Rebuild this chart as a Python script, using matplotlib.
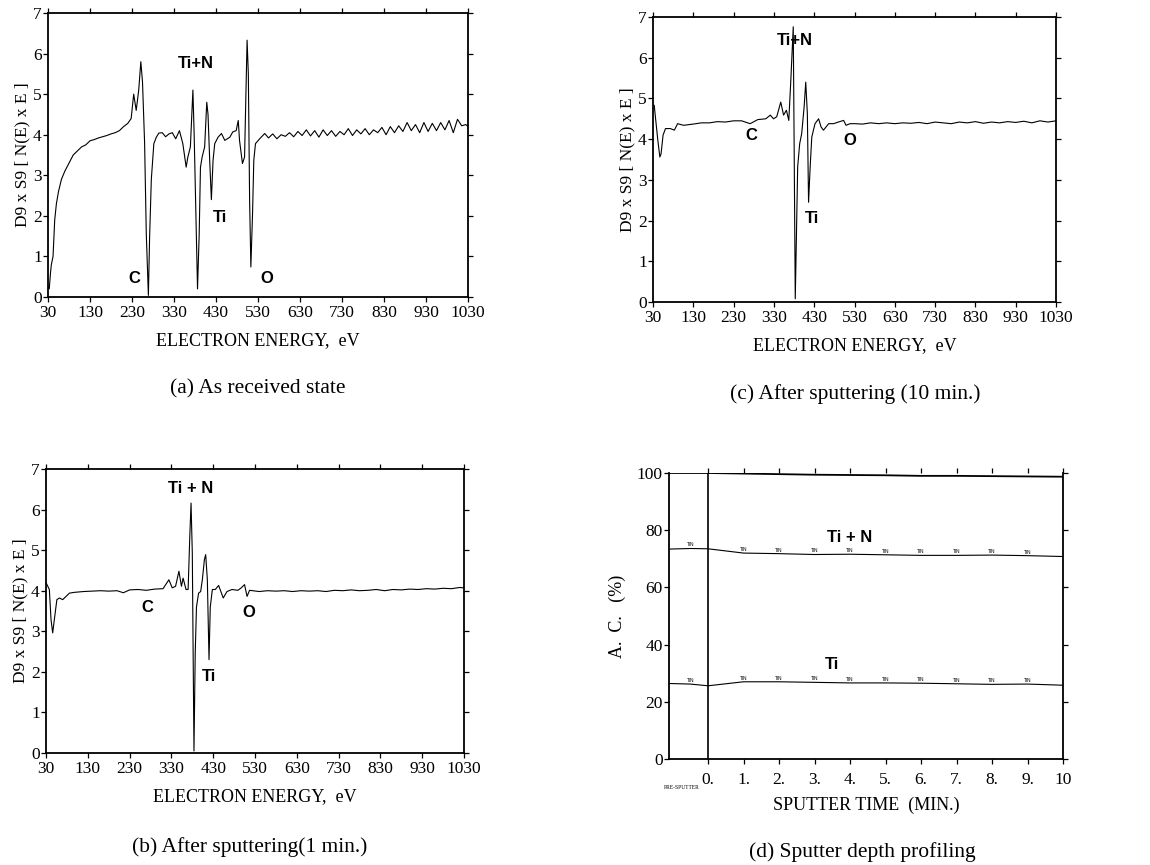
"""
Four panel AES figure: three Auger spectra and a sputter depth profile
"""
import matplotlib
matplotlib.use('Agg')
import matplotlib.pyplot as plt
from matplotlib.transforms import blended_transform_factory

plt.rcParams['font.family'] = ['Liberation Serif', 'DejaVu Serif']

# ---- data ----
# (a) as received
energy_a = [30, 33, 36, 38, 42, 46, 50, 55, 62, 70, 80, 90, 100, 110, 120, 130, 140, 150,
            160, 170, 180, 190, 200, 210, 220, 228, 234, 240, 246, 251, 255, 260, 264, 269,
            272, 276, 282, 288, 294, 302, 310, 318, 326, 334, 343, 351, 359, 363, 369, 374,
            375, 378, 383, 386, 390, 393, 397, 403, 408, 411, 415, 419, 423, 427, 435, 443,
            451, 463, 470, 478, 483, 486, 493, 498, 501, 504, 507, 510, 513, 517, 520, 524,
            534, 546, 555, 565, 575, 585, 595, 605, 615, 625, 635, 645, 655, 665, 675, 685,
            695, 705, 715, 725, 735, 745, 755, 765, 775, 785, 795, 805, 815, 825, 835, 845,
            855, 865, 875, 885, 895, 905, 915, 925, 935, 945, 955, 965, 975, 985, 995, 1005,
            1015, 1025, 1030]
signal_a = [0.25, 0.2, 0.6, 0.8, 1.0, 1.9, 2.3, 2.6, 2.9, 3.1, 3.3, 3.5, 3.6, 3.7, 3.75, 3.85,
            3.88, 3.92, 3.95, 3.98, 4.02, 4.05, 4.1, 4.2, 4.28, 4.4, 5.0, 4.6, 5.1, 5.8, 5.3,
            3.8, 1.56, 0.04, 1.5, 2.9, 3.78, 3.94, 4.04, 4.05, 3.95, 4.02, 4.05, 3.9, 4.1,
            3.78, 3.2, 3.45, 3.7, 4.85, 5.1, 4.0, 1.56, 0.2, 1.56, 3.2, 3.45, 3.7, 4.8, 4.5,
            3.37, 2.4, 3.37, 3.78, 3.94, 4.03, 3.86, 3.94, 4.07, 4.1, 4.35, 3.86, 3.29, 3.45,
            4.85, 6.33, 5.5, 2.4, 0.74, 2.05, 3.37, 3.78, 3.9, 4.03, 3.92, 4.02, 3.9, 4.0,
            3.96, 4.05, 3.95, 4.08, 3.98, 4.12, 3.97, 4.1, 3.94, 4.12, 3.98, 4.1, 3.96, 4.08,
            4.0, 4.15, 3.98, 4.12, 4.02, 4.15, 4.0, 4.12, 4.05, 4.18, 4.0, 4.2, 4.05, 4.22,
            4.08, 4.3, 4.1, 4.25, 4.05, 4.3, 4.08, 4.28, 4.1, 4.3, 4.12, 4.35, 4.05, 4.38,
            4.22, 4.25, 4.2]

# (b) after 1 min sputtering
energy_b = [30, 38, 42, 46, 50, 56, 62, 70, 78, 86, 98, 120, 140, 160, 180, 200, 215, 230,
            250, 270, 290, 310, 324, 332, 340, 348, 354, 358, 365, 370, 374, 377, 380, 382,
            384, 387, 390, 395, 400, 404, 409, 412, 416, 420, 423, 428, 435, 443, 454, 463,
            475, 489, 497, 505, 511, 517, 540, 560, 580, 600, 620, 640, 660, 680, 700, 720,
            740, 760, 780, 800, 820, 840, 860, 880, 900, 920, 940, 960, 980, 1000, 1020, 1030]
signal_b = [4.2, 4.03, 3.29, 2.96, 3.29, 3.78, 3.82, 3.78, 3.86, 3.94, 3.96, 3.98, 3.99, 4.0,
            3.99, 4.0, 3.95, 4.02, 4.03, 4.01, 4.04, 4.05, 4.27, 4.07, 4.11, 4.48, 4.11, 4.31,
            4.03, 4.03, 5.34, 6.16, 4.93, 2.47, 0.05, 2.47, 3.6, 3.94, 3.98, 4.27, 4.77, 4.89,
            4.27, 2.3, 3.6, 4.03, 4.03, 4.13, 3.82, 3.98, 4.03, 4.01, 4.07, 4.15, 3.86, 4.01,
            3.98, 4.0, 3.99, 4.0, 3.98, 4.0, 3.99, 4.0, 3.98, 4.01, 4.0, 4.02, 4.0, 4.01,
            4.03, 4.0, 4.03, 4.02, 4.04, 4.03, 4.05, 4.04, 4.06, 4.05, 4.08, 4.07]

# (c) after 10 min sputtering
energy_c = [33, 42, 47, 50, 55, 61, 73, 83, 91, 106, 130, 150, 170, 190, 210, 230, 250, 271,
            290, 310, 321, 329, 337, 347, 354, 361, 367, 372, 375, 378, 380, 383, 386, 389,
            394, 399, 405, 409, 413, 416, 420, 424, 432, 441, 447, 453, 466, 478, 490, 503,
            509, 519, 530, 550, 570, 590, 610, 630, 650, 670, 690, 710, 730, 750, 770, 790,
            810, 830, 850, 870, 890, 910, 930, 950, 970, 990, 1010, 1030]
signal_c = [4.83, 3.97, 3.56, 3.64, 4.1, 4.26, 4.26, 4.22, 4.38, 4.34, 4.37, 4.4, 4.4, 4.43,
            4.42, 4.45, 4.45, 4.38, 4.48, 4.5, 4.59, 4.5, 4.55, 4.91, 4.59, 4.71, 4.46, 5.45,
            6.1, 6.76, 4.14, 0.08, 1.68, 3.32, 3.89, 4.14, 4.79, 5.4, 4.63, 2.45, 3.32, 4.05,
            4.38, 4.5, 4.3, 4.22, 4.38, 4.38, 4.42, 4.46, 4.34, 4.38, 4.38, 4.37, 4.4, 4.38,
            4.4, 4.38, 4.4, 4.39, 4.41, 4.38, 4.42, 4.4, 4.38, 4.42, 4.4, 4.43, 4.39, 4.42,
            4.4, 4.43, 4.41, 4.44, 4.4, 4.45, 4.42, 4.45]

# (d) sputter depth profile
time_d = [-1.1, -0.5, 0.0, 1.0, 2.0, 3.0, 4.0, 5.0, 6.0, 7.0, 8.0, 9.0, 10.0]
tin_d = [73.4, 73.6, 73.5, 72.0, 71.8, 71.5, 71.6, 71.4, 71.2, 71.2, 71.3, 71.1, 70.8]
ti_d = [26.4, 26.2, 25.6, 27.0, 27.0, 26.8, 26.6, 26.6, 26.5, 26.3, 26.1, 26.2, 25.8]
total_d = [100.0, 100.0, 100.0, 99.8, 99.6, 99.4, 99.3, 99.2, 99.0, 99.0, 98.9, 98.8, 98.7]

energy_ticks = list(range(30, 1031, 100))
time_ticks = list(range(0, 11))
time_labels = ['0.', '1.', '2.', '3.', '4.', '5.', '6.', '7.', '8.', '9.', '10']

# peak labels: (text, energy, value)
labels_a = [('C', 236, 0.45), ('Ti+N', 383, 5.75), ('Ti', 439, 1.97), ('O', 550, 0.45)]
labels_b = [('C', 272, 3.59), ('Ti + N', 377, 6.53), ('Ti', 420, 1.89), ('O', 515, 3.47)]
labels_c = [('C', 275, 4.1), ('Ti+N', 383, 6.43), ('Ti', 424, 2.05), ('O', 518, 3.97)]

W, H = 1150, 865


def px_axes(fig, left, top, right, bottom):
    return fig.add_axes([left / W, 1 - bottom / H, (right - left) / W, (bottom - top) / H])


def style_axes(ax):
    for s in ax.spines.values():
        s.set_linewidth(1.3)
    ax.tick_params(which='both', direction='out', top=True, right=True,
                   length=3.5, width=0.9, pad=1, labelsize=12.5)
    ax.tick_params(axis='x', pad=2)


def spectrum_panel(ax, energy, signal, labels):
    ax.plot(energy, signal, color='black', linewidth=0.8)
    ax.set_xlim(30, 1030)
    ax.set_ylim(0, 7)
    ax.set_xticks(energy_ticks)
    ax.set_yticks(range(0, 8))
    style_axes(ax)
    ax.tick_params(axis='y', labelright=False)
    ax.tick_params(axis='x', labeltop=False)
    for txt, e, v in labels:
        ax.text(e, v, txt, family='Liberation Sans', fontweight='bold', fontsize=12,
                ha='center', va='center')
    ax.set_xlabel('ELECTRON ENERGY,  eV', fontsize=13, labelpad=8)
    ax.set_ylabel('D9 x S9 [ N(E) x E ]', fontsize=12.5, labelpad=2)


fig = plt.figure(figsize=(11.5, 8.65), dpi=100)

ax_a = px_axes(fig, 48, 13, 468, 297)
spectrum_panel(ax_a, energy_a, signal_a, labels_a)

ax_c = px_axes(fig, 653, 17, 1056, 302)
spectrum_panel(ax_c, energy_c, signal_c, labels_c)

ax_b = px_axes(fig, 46, 469, 464, 753)
spectrum_panel(ax_b, energy_b, signal_b, labels_b)

# depth profile
ax_d = px_axes(fig, 669, 473, 1063, 759)
ax_d.plot(time_d, tin_d, color='black', linewidth=0.8)
ax_d.plot(time_d, ti_d, color='black', linewidth=0.8)
ax_d.plot(time_d, total_d, color='black', linewidth=1.3)
ax_d.axvline(0, color='black', linewidth=1.2)
for t, a, b in zip(time_d[1:-1], tin_d[1:-1], ti_d[1:-1]):
    if t == 0.0:
        continue
    ax_d.text(t, a + 0.4, 'TiN', fontsize=3.5, ha='center', va='bottom', family='Liberation Sans')
    ax_d.text(t, b + 0.4, 'TiN', fontsize=3.5, ha='center', va='bottom', family='Liberation Sans')
ax_d.set_xlim(-1.1, 10)
ax_d.set_ylim(0, 100)
ax_d.set_xticks(time_ticks)
ax_d.set_xticklabels(time_labels)
ax_d.set_yticks(range(0, 101, 20))
style_axes(ax_d)
ax_d.spines['top'].set_visible(False)
ax_d.tick_params(axis='y', labelright=False)
ax_d.tick_params(axis='x', labeltop=False, pad=6)
ax_d.text(4.0, 77.6, 'Ti + N', family='Liberation Sans', fontweight='bold', fontsize=12,
          ha='center', va='center')
ax_d.text(3.5, 32.9, 'Ti', family='Liberation Sans', fontweight='bold', fontsize=12,
          ha='center', va='center')
trans = blended_transform_factory(ax_d.transData, ax_d.transAxes)
ax_d.text(-0.74, -0.1, 'PRE-SPUTTER', fontsize=4, ha='center', va='center', transform=trans)
ax_d.set_xlabel('SPUTTER TIME  (MIN.)', fontsize=13, labelpad=6)
ax_d.set_ylabel('A.  C.   (%)', fontsize=13, labelpad=8)

# captions
fig.text(258 / W, 1 - 389 / H, '(a) As received state', fontsize=15.5, ha='center', va='center')
fig.text(855 / W, 1 - 394 / H, '(c) After sputtering (10 min.)', fontsize=15.5, ha='center', va='center')
fig.text(250 / W, 1 - 847 / H, '(b) After sputtering(1 min.)', fontsize=15.5, ha='center', va='center')
fig.text(862 / W, 1 - 852 / H, '(d) Sputter depth profiling', fontsize=15.5, ha='center', va='center')

fig.savefig('out.png', dpi=100)
plt.close(fig)
